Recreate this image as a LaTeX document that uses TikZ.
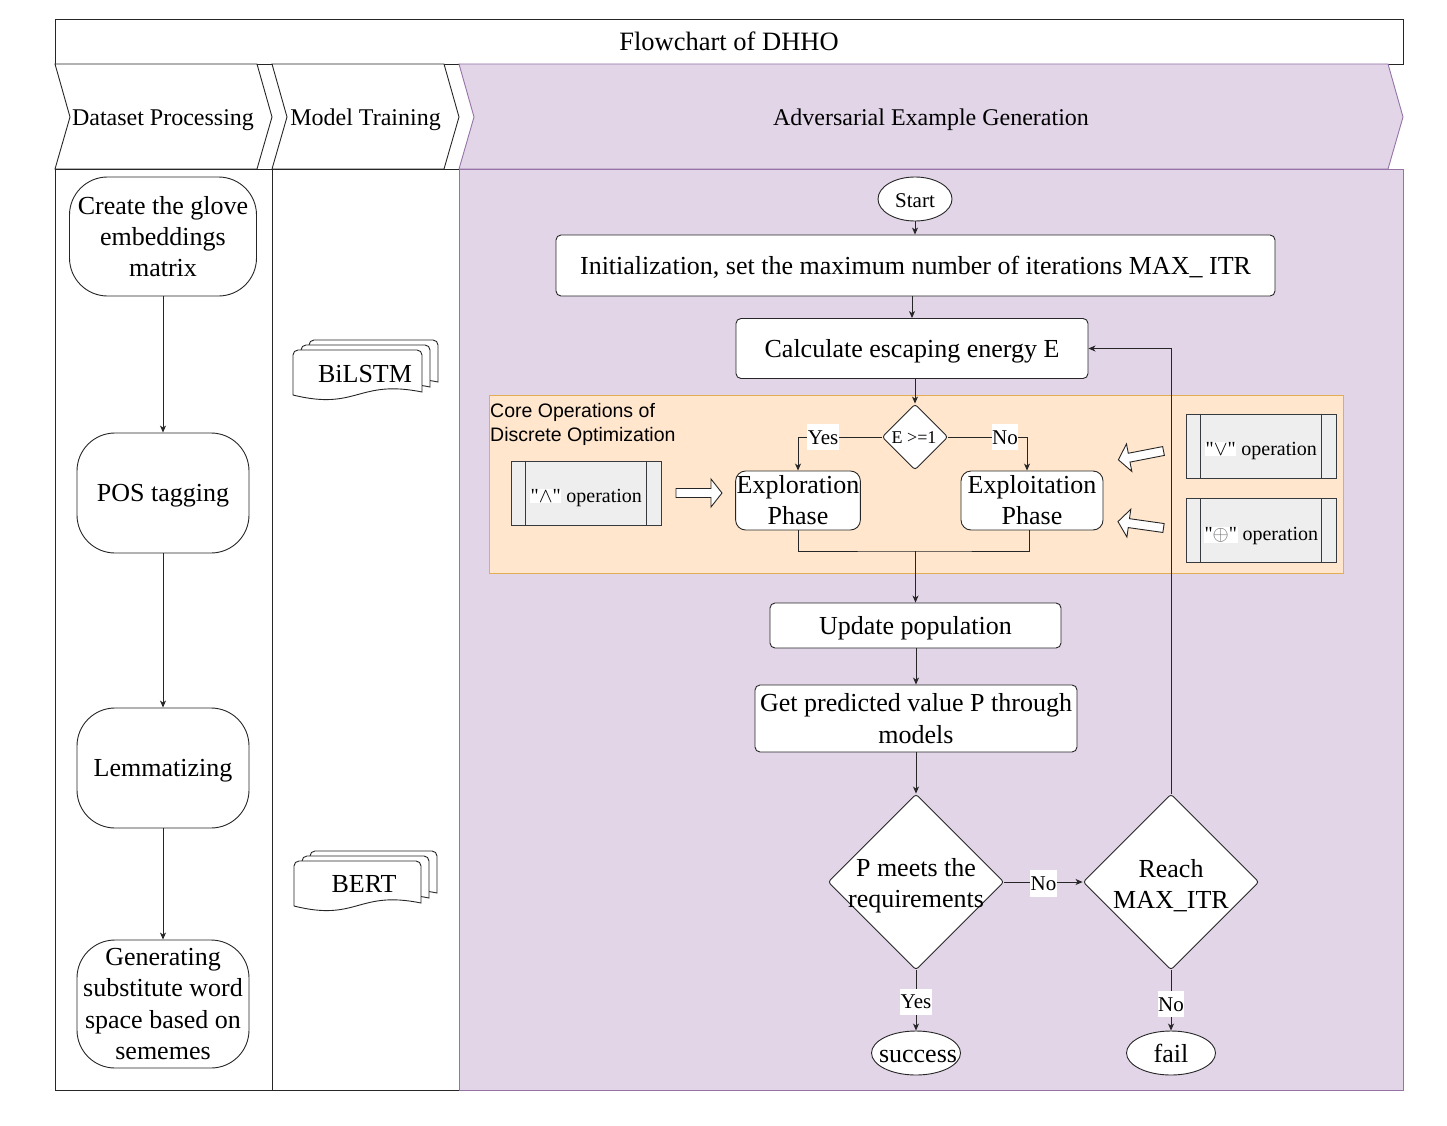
\documentclass[tikz,border=0pt]{standalone}
\usepackage{fontspec}
\setmainfont{Liberation Serif}
\newfontfamily\opfont{Liberation Serif}
\newfontfamily\arialfont{Liberation Sans}
\usetikzlibrary{shapes.geometric,arrows.meta,calc}
\definecolor{pfill}{HTML}{E1D5E7}
\definecolor{pdraw}{HTML}{9673A6}
\definecolor{ofill}{HTML}{FFE6CC}
\definecolor{odraw}{HTML}{E3AD55}
\definecolor{gfill}{HTML}{EEEEEE}
\definecolor{gdraw}{HTML}{36393D}
\newcommand\fs[2]{\fontsize{#1}{#2}\selectfont}
\newcommand\sT{\rule[-0.2625em]{0pt}{1.2em}}
\newcommand\sO{\rule[-0.2625em]{0pt}{1.5em}}
\newcommand\wq[1]{{\setlength{\fboxsep}{0.6pt}\colorbox{white}{"#1"}}}
\newcommand\docshape[4]{\filldraw[docsty] (#1,#4) -- (#1,#2+5) arc[start angle=180,end angle=270,radius=5] -- (#3-5,#2) arc[start angle=270,end angle=360,radius=5] -- (#3,#4-3) .. controls ({(#1+#3)/2},#4-16) and ({(#1+#3)/2},#4+16) .. (#1,#4) -- cycle;}
\tikzset{
 arr/.style={-{Stealth[length=7pt,width=6pt,inset=2pt]}, line width=0.9pt, draw=black!85},
 ln/.style={line width=0.9pt, draw=black!85},
 pbox/.style={draw=black!85, line width=0.9pt, fill=white, rounded corners=38pt, align=center, font=\fs{26}{31.2}, inner sep=0pt},
 proc/.style={draw=black!85, line width=0.9pt, fill=white, rounded corners=5pt, align=center, font=\fs{26}{31.2}, inner sep=1pt},
 phase/.style={proc, rounded corners=10pt},
 diam/.style={diamond, draw=black!85, line width=0.9pt, fill=white, inner sep=0pt, rounded corners=3pt},
 term/.style={ellipse, draw=black!85, line width=0.9pt, fill=white, inner sep=0pt},
 lbl/.style={fill=white, inner sep=0.5pt, font=\fs{21}{24}},
 txt/.style={align=center, inner sep=0pt, font=\fs{26}{31.2}},
 opbox/.style={draw=gdraw, fill=gfill, line width=0.9pt, minimum width=150pt, minimum height=64pt, inner sep=0pt, font=\opfont\fs{20}{24}},
 docsty/.style={fill=white, draw=black!85, line width=0.9pt},
 hdr/.style={font=\fs{24}{28}},
 barrow/.pic={\filldraw[fill=white, draw=black!85, line width=0.9pt] (0,-4.5) -- (35,-4.5) -- (35,-14) -- (46,0) -- (35,14) -- (35,4.5) -- (0,4.5) -- cycle;},
}
\begin{document}
\begin{tikzpicture}[x=1pt,y=-1pt]
\useasboundingbox (0,0) rectangle (1447,1126);
% title
\node[draw=black!85, line width=0.9pt, fill=white, minimum width=1348pt, minimum height=45pt, inner sep=0pt, font=\fs{26.5}{30}] (title) at (729,41.5) {\sT Flowchart of DHHO};
% lane headers
\filldraw[fill=white, draw=black!85, line width=0.9pt] (55,64) -- (257,64) -- (272,117) -- (257,169) -- (55,169) -- (70,117) -- cycle;
\filldraw[fill=white, draw=black!85, line width=0.9pt] (272,64) -- (444,64) -- (459,117) -- (444,169) -- (272,169) -- (287,117) -- cycle;
\filldraw[fill=pfill, draw=pdraw, line width=0.9pt] (459,64) -- (1388,64) -- (1403,117) -- (1388,169) -- (459,169) -- (474,117) -- cycle;
\node[hdr] (h1) at (163,117) {\sT Dataset Processing};
\node[hdr] (h2) at (365.5,117) {\sT Model Training};
\node[hdr] (h3) at (931,117) {\sT Adversarial Example Generation};
% lanes
\draw[ln] (55,169) rectangle (272,1090);
\draw[ln] (272,169) rectangle (459,1090);
\filldraw[fill=pfill, draw=pdraw, line width=0.9pt] (459,169) rectangle (1403,1090);
% orange group
\filldraw[fill=ofill, draw=odraw, line width=0.9pt] (489,395) rectangle (1343,573);
\node[anchor=north west, align=left, inner sep=1pt, font=\arialfont\fs{19.5}{24}] (core) at (489,402) {Core Operations of\\Discrete Optimization};
% lane 1
\node[pbox, minimum width=187pt, minimum height=119pt] (glove) at (163,236.5) {Create the glove\\embeddings\\matrix};
\node[pbox, minimum width=172pt, minimum height=120pt] (pos) at (163,493) {\sT POS tagging};
\node[pbox, minimum width=172pt, minimum height=120pt] (lem) at (163,768) {\sT Lemmatizing};
\node[pbox, minimum width=172pt, minimum height=128pt] (gen) at (163,1004) {Generating\\substitute word\\space based on\\sememes};
\draw[arr] (glove) -- (pos);
\draw[arr] (pos) -- (lem);
\draw[arr] (lem) -- (gen);
% lane 2
\docshape{309}{340}{438}{385}
\docshape{301}{345}{430}{390}
\docshape{293}{350}{422}{395}
\node[txt] (bilstm) at (365,374) {BiLSTM};
\docshape{310}{851}{437}{896}
\docshape{302}{856}{429}{901}
\docshape{294}{861}{421}{906}
\node[txt] (bert) at (364,884) {BERT};
% lane 3
\node[term, minimum width=74pt, minimum height=44pt] (start) at (915,199) {};
\node[inner sep=0pt, font=\fs{21}{24}] (startt) at (915,200.5) {Start};
\node[proc, minimum width=719pt, minimum height=61pt] (init) at (915.5,265.5) {\sT Initialization, set the maximum number of iterations MAX\_ ITR};
\node[proc, minimum width=352pt, minimum height=60pt] (calc) at (912,348.5) {\sT Calculate escaping energy E};
\node[diam, minimum width=66pt, minimum height=66pt] (ed) at (915,437) {};
\node[inner sep=0pt, font=\fs{18}{20}] (edt) at (914,437.5) {E >=1};
\node[phase, minimum width=124pt, minimum height=59pt] (explore) at (798,500.5) {Exploration\\Phase};
\node[phase, minimum width=142pt, minimum height=59pt] (exploit) at (1032,500.5) {Exploitation\\Phase};
\node[opbox] (opand) at (586,493) {\sO\wq{$\wedge$} operation};
\node[opbox] (opor) at (1261,446) {\sO\wq{$\vee$} operation};
\node[opbox] (opxor) at (1261,530.5) {\sO\wq{\textcolor{black!60}{$\oplus$}} operation};
\foreach \n in {opand,opor,opxor}{
 \draw[draw=gdraw, line width=0.9pt] ($(\n.north west)+(15,0)$) -- ($(\n.south west)+(15,0)$);
 \draw[draw=gdraw, line width=0.9pt] ($(\n.north east)+(-15,0)$) -- ($(\n.south east)+(-15,0)$);
}
\pic at (676,493) {barrow};
\pic[rotate=191] at (1163.5,451) {barrow};
\pic[rotate=172] at (1163.5,528) {barrow};
\node[proc, minimum width=291pt, minimum height=45pt] (update) at (915.5,625.5) {\sT Update population};
\node[proc, minimum width=322pt, minimum height=67pt, inner sep=3pt] (getp) at (916,718.5) {Get predicted value P through\\models};
\node[diam, minimum width=176pt, minimum height=176pt] (pm) at (916,882) {};
\node[txt] (pmt) at (916,886) {P meets the\\requirements};
\node[diam, minimum width=176pt, minimum height=176pt] (reach) at (1171,882) {};
\node[txt] (reacht) at (1171,886) {Reach\\MAX\_ITR};
\node[term, minimum width=89pt, minimum height=44pt] (succ) at (916,1053) {};
\node[txt] (succt) at (918,1056) {success};
\node[term, minimum width=89pt, minimum height=44pt] (fail) at (1171,1053) {};
\node[txt] (failt) at (1171,1053) {fail};
% connectors lane 3
\draw[arr] (start.south) -- (start.south |- init.north);
\draw[arr] (calc.north |- init.south) -- (calc.north);
\draw[arr] (calc.south -| ed.north) -- (ed.north);
\draw[arr] (ed.west) -| node[lbl, pos=0.35] {\sT Yes} (explore.north);
\draw[arr] (ed.east) -| node[lbl, pos=0.36] {\sT No} ($(exploit.north)+(-5,0)$);
\coordinate (join) at (915.5,551);
\draw[ln] (explore.south) |- (join) -| ($(exploit.south)+(-3,0)$);
\draw[arr] (join) -- (update.north);
\draw[arr] (update.south -| getp.north) -- (getp.north);
\draw[arr] (getp.south) -- (pm.north);
\draw[arr] (pm.east) -- node[lbl, yshift=-1.5pt] {\sT No} (reach.west);
\draw[arr] (pm.south) -- node[lbl, pos=0.52] {\sT Yes} (succ.north);
\draw[arr] (reach.south) -- node[lbl, pos=0.56] {\sT No} (fail.north);
\draw[arr] (reach.north) |- (calc.east);
\end{tikzpicture}
\end{document}
